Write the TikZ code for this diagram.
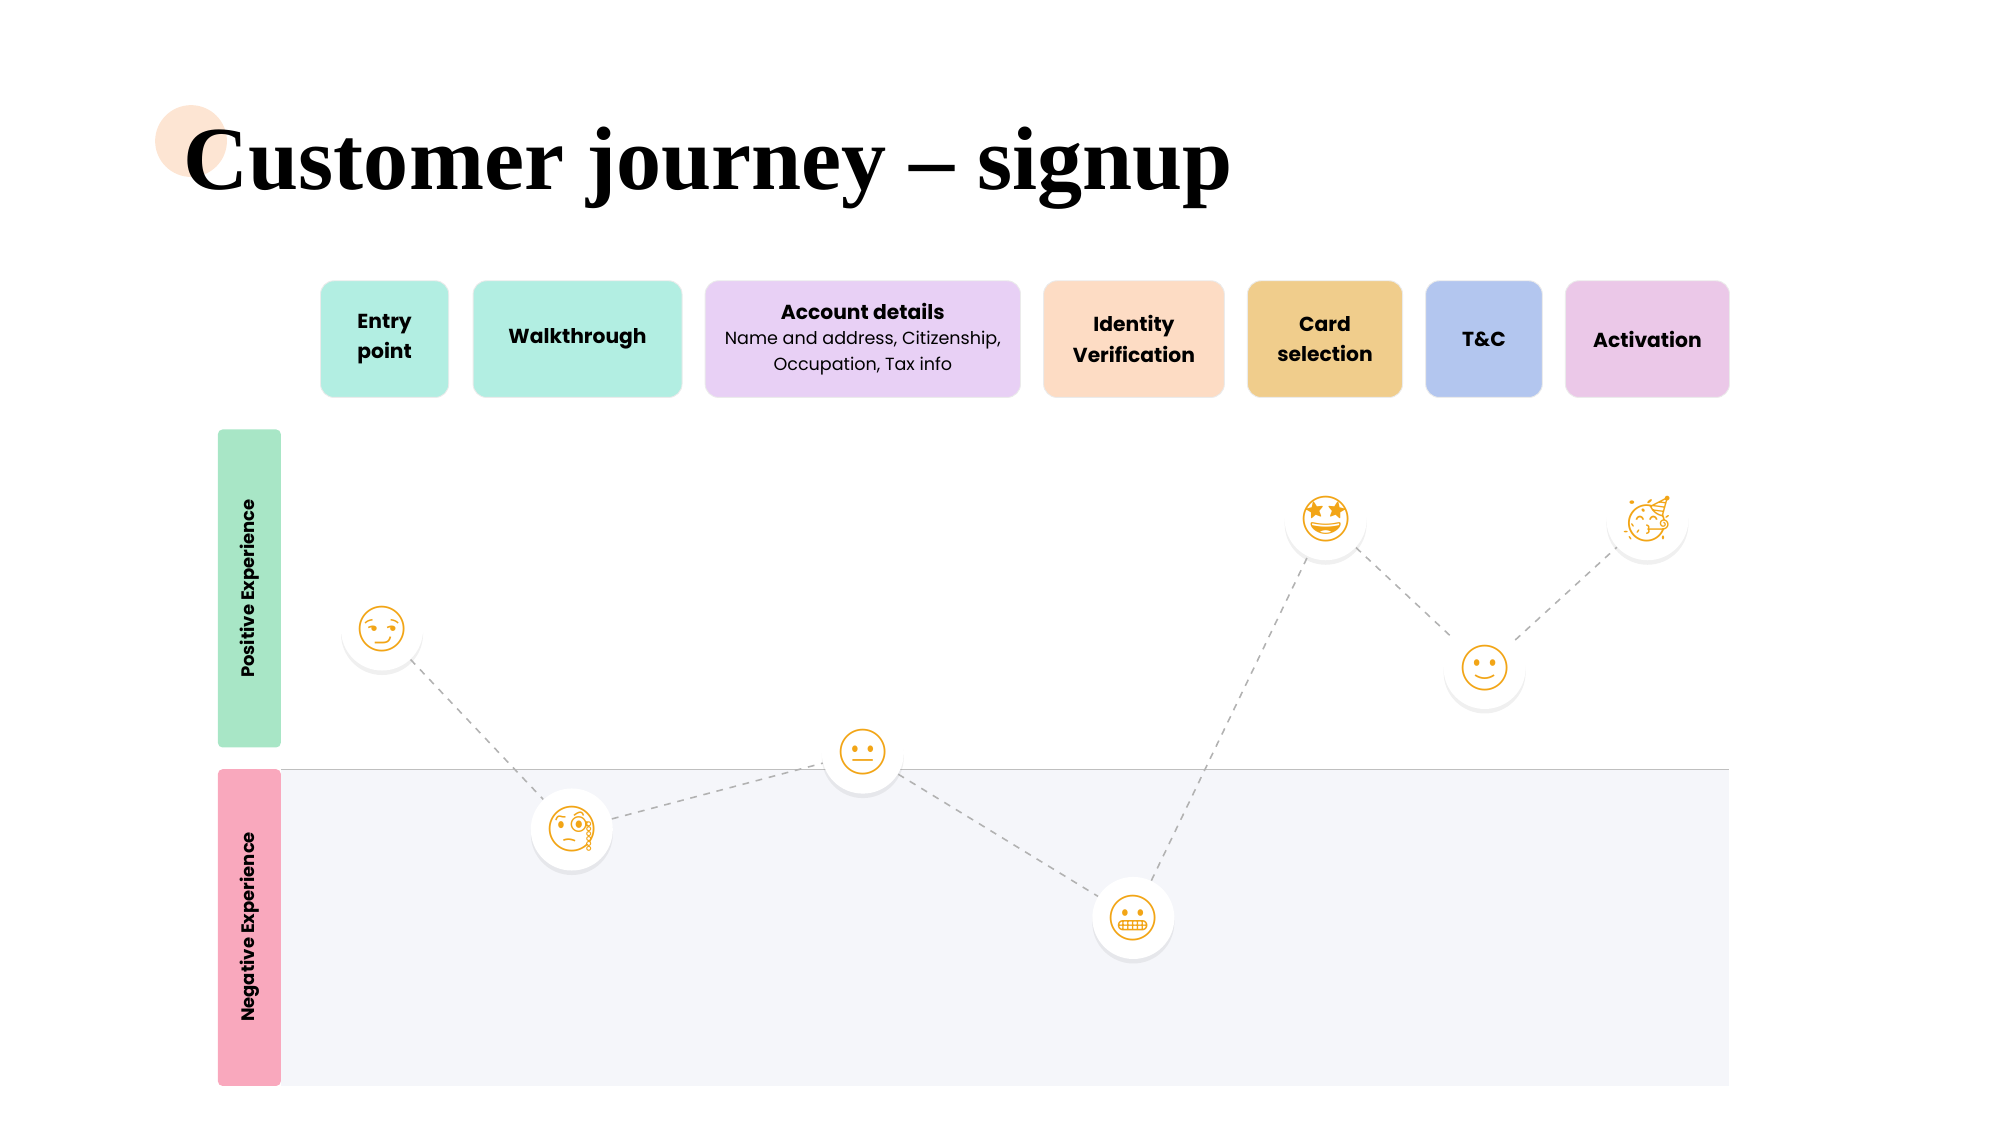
\documentclass[tikz,border=0pt]{standalone}
\usepackage{fontspec}
\setmainfont{Poppins}
\newfontfamily\titlefont{Liberation Serif}
\newfontfamily\emojifont{Noto Emoji}
\usetikzlibrary{shadows}
\definecolor{mint}{HTML}{B2EEE2}
\definecolor{lilac}{HTML}{E8D0F5}
\definecolor{peach}{HTML}{FDDCC4}
\definecolor{sand}{HTML}{F0CD8C}
\definecolor{sky}{HTML}{B3C6EF}
\definecolor{orchid}{HTML}{EBC8E8}
\definecolor{posgreen}{HTML}{A8E6C6}
\definecolor{negpink}{HTML}{F9A8BD}
\definecolor{negbg}{HTML}{F5F6FA}
\definecolor{facecol}{HTML}{F2A516}
\begin{document}
\begin{tikzpicture}[x=0.02cm,y=-0.02cm,
  stage/.style={rounded corners=6pt,draw=black!8,minimum height=91*0.02cm,
    align=center,font=\fontsize{9}{13.5}\selectfont\bfseries,inner sep=0pt},
  mood/.style={circle,fill=white,minimum size=64*0.02cm,inner sep=0pt,
    drop shadow={opacity=0.12,shadow xshift=0pt,shadow yshift=-2pt},
    font=\fontsize{20}{20}\selectfont\emojifont,text=facecol},
  link/.style={draw=black!30,dashed,line width=0.7pt}]
\useasboundingbox (0,0) rectangle (1560,877.5);
% title
\fill[peach!75] (149,110) circle (28);
\node[anchor=base west,inner sep=0pt,font=\fontsize{40}{40}\selectfont\titlefont\bfseries] (title) at (143,148) {Customer journey – signup};
% stages
\node[stage,fill=mint,minimum width=100*0.02cm] (entry) at (300,264.5) {Entry\\point};
\node[stage,fill=mint,minimum width=163*0.02cm] (walk) at (450.5,264.5) {Walkthrough};
\node[stage,fill=lilac,minimum width=246*0.02cm] (account) at (673,264.5) {Account details\\[-2pt]{\fontsize{7.8}{11}\selectfont\mdseries Name and address, Citizenship,}\\[-2pt]{\fontsize{7.8}{11}\selectfont\mdseries Occupation, Tax info}};
\node[stage,fill=peach,minimum width=141*0.02cm] (ident) at (884.5,264.5) {Identity\\Verification};
\node[stage,fill=sand,minimum width=121*0.02cm] (card) at (1033.5,264.5) {Card\\selection};
\node[stage,fill=sky,minimum width=91*0.02cm] (tc) at (1157.5,264.5) {T\&C};
\node[stage,fill=orchid,minimum width=128*0.02cm] (activ) at (1285,264.5) {Activation};
% experience bands
\fill[negbg] (219,600) rectangle (1349,847);
\draw[black!25] (219,600) -- (1349,600);
\fill[posgreen,rounded corners=2pt] (170,335) rectangle (219,583);
\fill[negpink,rounded corners=2pt] (170,600) rectangle (219,847);
\node[rotate=90,font=\fontsize{8}{8}\selectfont\bfseries] (pos) at (195,459) {Positive Experience};
\node[rotate=90,font=\fontsize{8}{8}\selectfont\bfseries] (neg) at (195,723) {Negative Experience};
% moods
\node[mood] (m1) at (298,491) {😏};
\node[mood] (m2) at (446,647) {🧐};
\node[mood] (m3) at (673,587) {😐};
\node[mood] (m4) at (884,716) {😬};
\node[mood] (m5) at (1034,405) {🤩};
\node[mood] (m6) at (1158,521) {🙂};
\node[mood] (m7) at (1285,405) {🥳};
\foreach \a/\b in {m1/m2,m2/m3,m3/m4,m4/m5,m5/m6,m6/m7}
  \draw[link] (\a) -- (\b);
\end{tikzpicture}
\end{document}
